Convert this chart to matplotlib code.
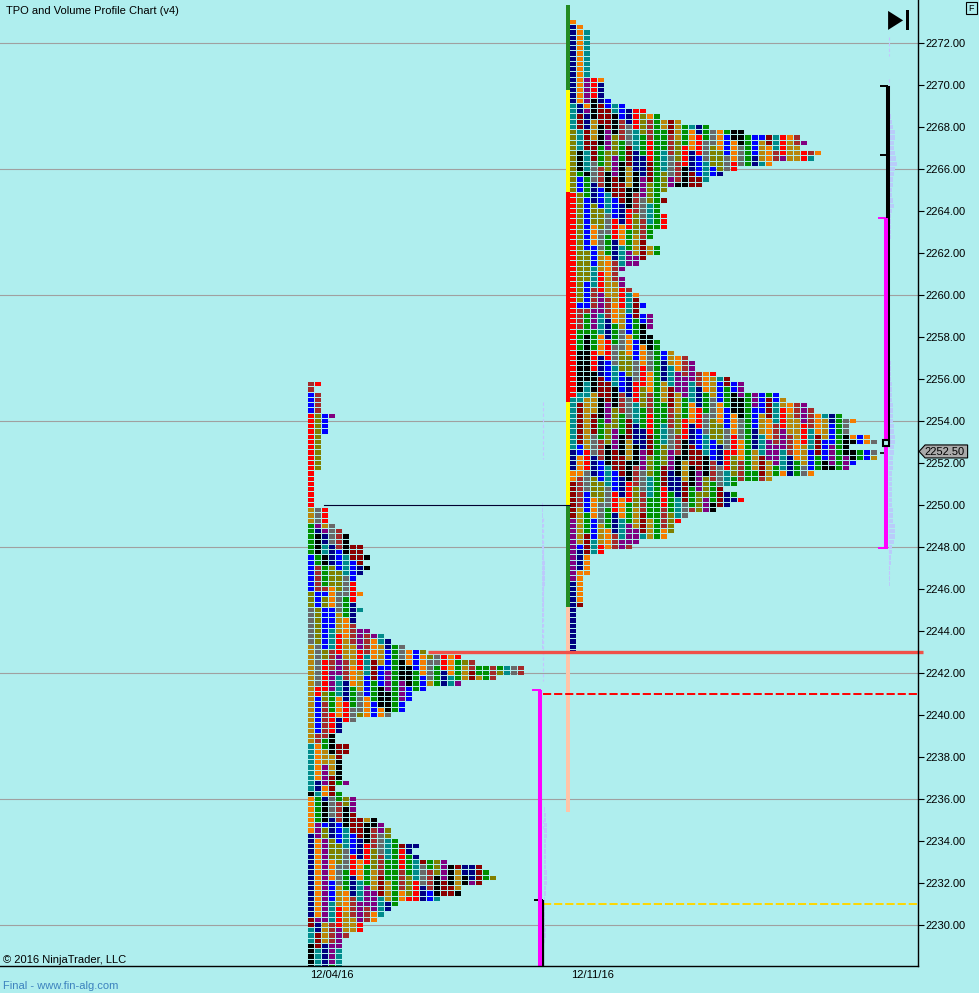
import matplotlib
matplotlib.use('Agg')
import matplotlib.pyplot as plt
from matplotlib.patches import Polygon, Rectangle
from matplotlib.transforms import Affine2D

plt.rcParams['font.family'] = ['Liberation Sans', 'DejaVu Sans']

# TPO row widths, one row per 0.25 points, from the top price of each session
left_top = 2255.75
left_widths = [
    2, 1, 2, 2, 2, 2, 4, 3, 3, 3, 2, 2, 2, 2, 2, 2, 2, 1, 1, 1, 1, 1, 1, 1,
    3, 3, 3, 4, 5, 6, 6, 8, 8, 9, 8, 9, 8, 7, 7, 7, 8, 7, 7, 8, 7, 7, 7,
    9, 11, 12, 14, 17, 22, 24, 31, 31, 27, 22, 17, 15, 15, 14, 14, 12, 7,
    5, 5, 4, 4, 6, 6, 5, 5, 5, 5, 5, 6, 4, 5, 7, 7, 7, 7, 10, 11, 12, 12,
    13, 16, 15, 16, 20, 25, 26, 27, 25, 22, 22, 19, 13, 12, 11, 10, 8, 8,
    6, 5, 5, 5, 5, 5, 5,
]
right_top = 2273.0
right_widths = [
    1, 2, 3, 3, 3, 3, 3, 3, 3, 3, 3, 5, 5, 5, 5, 6, 8, 11, 13, 16, 20, 25,
    33, 34, 33, 36, 35, 29, 24, 22, 20, 19, 14, 13, 14, 13, 13, 14, 14, 14,
    12, 12, 11, 13, 13, 11, 10, 8, 7, 8, 8, 9, 10, 10, 11, 10, 12, 12, 12,
    11, 12, 13, 13, 15, 17, 18, 18, 21, 23, 25, 25, 30, 31, 34, 35, 39, 41,
    40, 40, 43, 44, 40, 44, 44, 41, 40, 35, 29, 24, 22, 24, 25, 23, 21, 17,
    16, 15, 15, 14, 10, 9, 5, 3, 3, 3, 3, 2, 2, 2, 2, 2, 2, 1, 1, 1, 1, 1,
    1, 1, 1, 1,
]

# colours of the leftmost columns as (letter, rows)
left_cols = [
    [('w', 2), ('b', 4), ('r', 18), ('g', 3), ('e', 6), ('b', 7), ('l', 3),
     ('d', 7), ('g', 19), ('t', 9), ('k', 1), ('o', 7), ('n', 16), ('m', 2),
     ('t', 3), ('k', 5)],
    [('r', 1), ('w', 1), ('w', 4), ('l', 11), ('d', 10), ('p', 1), ('n', 1),
     ('k', 4), ('e', 2), ('w', 5), ('b', 3), ('l', 7), ('d', 8), ('r', 2),
     ('b', 7), ('w', 2), ('o', 7), ('n', 2), ('t', 1), ('e', 5), ('p', 3),
     ('o', 15), ('p', 1), ('n', 2), ('m', 3), ('t', 5)],
    [('k', 6), ('b', 4), ('k', 14), ('r', 3), ('g', 1), ('p', 1), ('n', 2), ('t', 2),
     ('k', 2), ('e', 4), ('w', 1), ('b', 1), ('l', 2), ('b', 8), ('l', 2), ('r', 6),
     ('l', 2), ('w', 7), ('e', 2), ('g', 3), ('p', 4), ('o', 2), ('n', 1), ('k', 4),
     ('b', 1), ('l', 2), ('p', 16), ('g', 4), ('n', 5), ('m', 5)],
]
right_cols = [
    [('o', 1), ('n', 15), ('t', 5), ('l', 12), ('r', 39), ('t', 10), ('n', 4),
     ('o', 2), ('m', 7), ('p', 12), ('n', 15)],
    [('o', 16), ('n', 2), ('m', 3), ('t', 4), ('k', 4), ('e', 1), ('b', 3),
     ('l', 21), ('b', 1), ('w', 4), ('e', 4), ('k', 8), ('t', 2), ('m', 8),
     ('b', 2), ('o', 4), ('w', 6), ('g', 7), ('b', 1), ('n', 4), ('o', 6)],
    [('t', 11), ('p', 5), ('o', 1), ('p', 1), ('n', 3), ('m', 4), ('t', 4), ('k', 1),
     ('e', 4), ('b', 10), ('l', 6), ('b', 5), ('w', 1), ('e', 4), ('k', 9), ('t', 3),
     ('g', 10)],
]

# per session bars and levels
left_vol_top = 2250.0
left_vol = [1, 1, 1, 1, 1, 1, 1, 1, 2, 2, 2, 3, 3, 3, 3, 3, 2, 2, 2, 2, 2, 2, 1, 1, 1, 1, 1, 1]
left_vol2_top = 2235.5
left_vol2 = [1, 2, 2, 3, 3, 3, 2, 2, 2, 2, 2, 2, 3, 3, 3, 2, 2, 1, 1, 1, 1, 1, 1, 2, 2, 1]
right_vol_top = 2269.0
right_vol = [
    1, 1, 2, 3, 4, 6, 6, 5, 5, 6, 7, 8, 6, 5, 4, 4, 3, 3, 4, 5,
    3, 2, 2, 2, 2, 2, 1, 1, 1, 1, 1, 1, 1, 1, 1, 1, 1, 1, 1, 1, 1, 1, 1, 1,
    1, 1, 1, 1, 1, 2, 2, 2, 2, 3, 3, 3, 3, 4, 4, 4,
    4, 5, 5, 6, 6, 5, 5, 4, 4, 4, 3, 3, 3, 3, 3, 3,
    3, 4, 4, 4, 6, 6, 6, 5, 3, 3, 2, 2, 1, 1, 1, 1,
]
grid_levels = [2272, 2266, 2260, 2254, 2248, 2242, 2236, 2230]
y_ticks = list(range(2230, 2273, 2))
x_tick_labels = ['12/04/16', '12/11/16']
strip_levels = [2273.8, 2269.75, 2264.9, 2254.9, 2250.0, 2245.15, 2235.4]
strip_colors = ['#228B22', '#FFFF00', '#FF0000', '#FFFF00', '#228B22', '#FFC4A8']
last_price = 2252.5
poor_high = 2243.0
week_high = 2241.0
week_low = 2231.0
naked_poc = 2250.0

palette = {'n': '#000080', 'o': '#F57C00', 't': '#008B8B', 'p': '#800080', 'r': '#FF0000',
           'g': '#B8860B', 'd': '#696969', 'l': '#808000', 'b': '#0000FF', 'w': '#A52A2A',
           'e': '#009000', 'k': '#000000', 'm': '#8B0000'}
period_order = 'notprgdlbwekm'


def expand(runs):
    out = []
    for letter, n in runs:
        out += [letter] * n
    return out


def cell_letter(columns, row, col):
    if col < len(columns) and row < len(columns[col]):
        return columns[col][row]
    # cells are not read one by one past the first columns, keep the streaks
    block = (row + col * 3) // 4
    k = block * 5 + col * 4 + block * col * 5 + col * col
    return period_order[k % 13]


def draw_session(ax, top, widths, x0, col_runs):
    columns = [expand(r) for r in col_runs]
    ys, lefts, cols = [], [], []
    for row, w in enumerate(widths):
        for col in range(w):
            ys.append(top - 0.25 * row)
            lefts.append(x0 + 7 * col)
            cols.append(palette[cell_letter(columns, row, col)])
    ax.barh(ys, [6] * len(ys), left=lefts, height=0.205, color=cols, linewidth=0,
            antialiased=False, zorder=3)


def draw_volume(ax, top, widths, x0):
    ys = [top - 0.25 * i for i in range(len(widths))]
    ax.barh(ys, widths, left=x0, height=0.2, color='#B9CCFA', linewidth=0, zorder=2)


fig = plt.figure(figsize=(9.791, 9.931), dpi=100, facecolor='#AFEEEE')
ax = fig.add_axes([0, 27 / 993, 918 / 979, 966 / 993])
ax.set_facecolor('#AFEEEE')
ax.set_xlim(0, 918)
ax.set_ylim(2272 - 923 / 21, 2272 + 43 / 21)

for level in grid_levels:
    ax.axhline(level, color='#A0A0A0', lw=0.8, zorder=1)

draw_volume(ax, left_vol_top, left_vol, 542)
draw_volume(ax, left_vol2_top, left_vol2, 544)
draw_volume(ax, right_vol_top, right_vol, 889)
for x, segs in [(542.5, [(2254.9, 2252.2), (2249.4, 2241.6), (2235.0, 2234.5)]),
                (888.5, [(2272.3, 2271.4), (2270.3, 2269.9), (2247.9, 2246.5)])]:
    for y1, y2 in segs:
        ax.plot([x, x], [y1, y2], color='#C4C4FF', lw=0.8, ls=(0, (3, 2)), zorder=2)

draw_session(ax, left_top, left_widths, 308, left_cols)
draw_session(ax, right_top, right_widths, 570, right_cols)

# value area strip next to the second session
for i, c in enumerate(strip_colors):
    ax.fill_betweenx([strip_levels[i + 1], strip_levels[i]], 566, 570, color=c, lw=0, zorder=4)

# levels carried forward
ax.plot([324, 570], [naked_poc, naked_poc], color='#000030', lw=0.8, zorder=4)
ax.plot([428, 923], [poor_high, poor_high], color='#F05048', lw=2.4, zorder=5, clip_on=False,
        solid_capstyle='butt')
ax.plot([543, 918], [week_high, week_high], color='#FF0000', lw=1.4, ls=(0, (4.2, 1.5)), zorder=4)
ax.plot([543, 918], [week_low, week_low], color='#FFD700', lw=1.4, ls=(0, (4.2, 1.5)), zorder=4)

# range bars
ax.plot([543, 543], [2231.2, 2228.05], color='k', lw=1.6, zorder=5, solid_capstyle='butt')
ax.plot([534, 543], [2231.2, 2231.2], color='k', lw=1.4, zorder=5, solid_capstyle='butt')
ax.plot([540, 540], [2241.2, 2228.05], color='#FF00FF', lw=2.9, zorder=6, solid_capstyle='butt')
ax.plot([532, 541], [2241.2, 2241.2], color='#FF00FF', lw=1.4, zorder=6, solid_capstyle='butt')

ax.plot([888, 888], [2269.95, 2252.9], color='k', lw=2.9, zorder=5, solid_capstyle='butt')
ax.plot([880, 888], [2269.95, 2269.95], color='k', lw=1.4, zorder=5, solid_capstyle='butt')
ax.plot([880, 888], [2266.67, 2266.67], color='k', lw=1.4, zorder=5, solid_capstyle='butt')
ax.plot([886, 886], [2263.65, 2247.9], color='#FF00FF', lw=2.9, zorder=6, solid_capstyle='butt')
ax.plot([878, 886], [2263.65, 2263.65], color='#FF00FF', lw=1.4, zorder=6, solid_capstyle='butt')
ax.plot([878, 887], [2247.95, 2247.95], color='#FF00FF', lw=1.4, zorder=6, solid_capstyle='butt')
ax.plot([880, 884], [2252.45, 2252.45], color='k', lw=1.2, zorder=7, solid_capstyle='butt')
ax.plot([885.5], [2252.96], marker='s', ms=4.6, mfc='#AFEEEE', mec='k', mew=1.5, zorder=7)

# axes
for side in ['left', 'top']:
    ax.spines[side].set_visible(False)
for side in ['right', 'bottom']:
    ax.spines[side].set_linewidth(1.0)
    ax.spines[side].set_zorder(8)
ax.yaxis.tick_right()
ax.set_yticks(y_ticks)
ax.set_yticklabels(['%.2f' % t for t in y_ticks], fontsize=8)
ax.tick_params(axis='y', length=4.5, width=0.8, pad=1)
ax.set_xticks([331.5, 592])
ax.set_xticklabels(x_tick_labels, fontsize=8)
ax.tick_params(axis='x', length=0, pad=3)

# window furniture placed in image pixels
px = Affine2D().scale(1 / 979, -1 / 993).translate(0, 1) + fig.transFigure
fig.text(6, 11, 'TPO and Volume Profile Chart (v4)', transform=px, fontsize=8, va='center')
fig.text(3, 960, '\u00a9 2016 NinjaTrader, LLC', transform=px, fontsize=8, va='center')
fig.text(3, 986, 'Final - www.fin-alg.com', transform=px, fontsize=8, va='center', color='#3C82BE')
fig.add_artist(Polygon([(888, 11), (903, 20.5), (888, 30)], closed=True, fc='k', ec='none', transform=px))
fig.add_artist(Rectangle((905.5, 10), 3, 20, fc='k', ec='none', transform=px))
fig.add_artist(Rectangle((965.5, 2.5), 11, 12, fc='none', ec='k', lw=0.8, transform=px))
fig.text(971, 8.7, 'F', transform=px, fontsize=6.5, ha='center', va='center')

# last price tag
fig.add_artist(Polygon([(919, 451.5), (925, 445), (967.5, 445), (967.5, 458), (925, 458)], closed=True,
                       fc='#A9A9A9', ec='k', lw=0.8, transform=px))
fig.text(944, 451.7, '%.2f' % last_price, transform=px, fontsize=8, ha='center', va='center')

fig.savefig('out.png', dpi=100, facecolor=fig.get_facecolor())
